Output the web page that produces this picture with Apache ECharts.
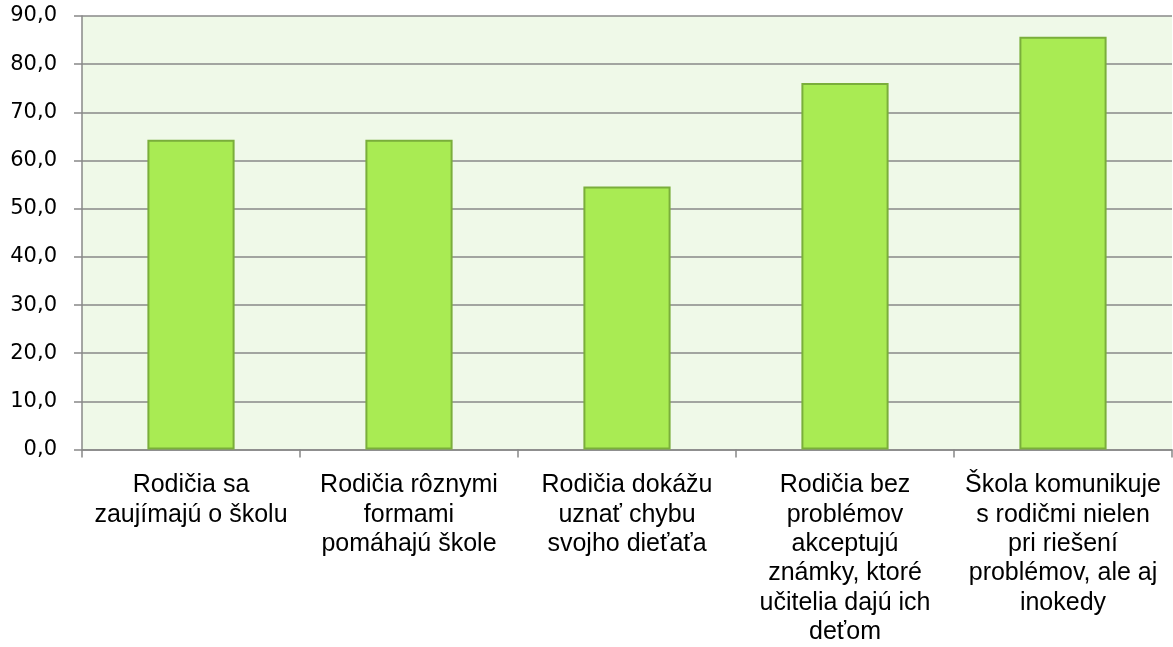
<!DOCTYPE html>
<html>
<head>
<meta charset="utf-8">
<script src="https://cdn.jsdelivr.net/npm/echarts@6/dist/echarts.min.js"></script>
<style>
  html, body { margin: 0; padding: 0; background: #fff; }
  #chart { width: 1173px; height: 647px; }
</style>
</head>
<body>
<div id="chart"></div>
<script>
  // kategórie (zalomenie riadkov ako v origináli)
  var categories = [
    'Rodičia sa\nzaujímajú o školu',
    'Rodičia rôznymi\nformami\npomáhajú škole',
    'Rodičia dokážu\nuznať chybu\nsvojho dieťaťa',
    'Rodičia bez\nproblémov\nakceptujú\nznámky, ktoré\nučitelia dajú ich\ndeťom',
    'Škola komunikuje\ns rodičmi nielen\npri riešení\nproblémov, ale aj\ninokedy'
  ]
  var values = [64.3, 64.3, 54.6, 76.1, 85.7]
  var yMin = 0, yMax = 90, yStep = 10

  var myChart = echarts.init(document.getElementById('chart'))
  var option = {
    animation: false,
    backgroundColor: '#ffffff',
    grid: {
      left: 82,
      right: 1,
      top: 16,
      bottom: 195.5,
      show: true,
      backgroundColor: '#eff9e8',
      borderWidth: 0
    },
    xAxis: {
      type: 'category',
      data: categories,
      axisLine: { lineStyle: { color: '#888888', width: 1.5 } },
      axisTick: { show: true, length: 8, interval: 0, alignWithLabel: false, lineStyle: { color: '#888888', width: 1.5 } },
      axisLabel: {
        interval: 0,
        margin: 21,
        color: '#000',
        fontFamily: 'Liberation Sans',
        fontSize: 25,
        lineHeight: 29.4,
        align: 'center'
      }
    },
    yAxis: {
      type: 'value',
      min: yMin,
      max: yMax,
      interval: yStep,
      axisLine: { show: true, lineStyle: { color: '#888888', width: 1.5 } },
      axisTick: { show: true, length: 8, lineStyle: { color: '#888888', width: 1.5 } },
      splitLine: { lineStyle: { color: '#888888', width: 1.5 } },
      axisLabel: {
        margin: 25,
        color: '#000',
        fontFamily: 'DejaVu Sans',
        fontSize: 21,
        formatter: function (v) { return v.toFixed(1).replace('.', ',') }
      }
    },
    series: [
      {
        type: 'bar',
        data: values,
        barWidth: '40%',
        itemStyle: {
          color: '#a9eb53',
          borderColor: '#7aae3b',
          borderWidth: 2
        }
      }
    ]
  }
  myChart.setOption(option)
</script>
</body>
</html>
